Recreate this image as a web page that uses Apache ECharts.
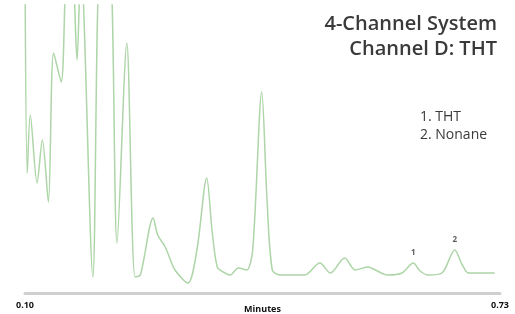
<!DOCTYPE html>
<html>
<head>
<meta charset="utf-8">
<script src="https://cdn.jsdelivr.net/npm/echarts@6/dist/echarts.min.js"></script>
<style>
  html, body { margin: 0; padding: 0; background: #fff; }
  #chart { width: 515px; height: 314px; }
</style>
</head>
<body>
<div id="chart"></div>
<script>
// retention time (minutes) and detector signal (arbitrary units, >288 = off scale)
const times = [0.100, 0.103, 0.107, 0.116, 0.123, 0.131, 0.138, 0.148, 0.156, 0.162,
  0.169, 0.174, 0.190, 0.200, 0.212, 0.222, 0.235, 0.246, 0.253, 0.270,
  0.276, 0.286, 0.299, 0.316, 0.328, 0.341, 0.348, 0.355, 0.363, 0.372,
  0.383, 0.394, 0.402, 0.414, 0.421, 0.428, 0.438, 0.471, 0.491, 0.505,
  0.524, 0.538, 0.554, 0.581, 0.600, 0.615, 0.624, 0.635, 0.653, 0.670,
  0.680, 0.688, 0.697, 0.723];
const signal = [330, 120, 178, 110, 153, 91, 240, 211, 330, 330,
  233, 330, 16, 330, 330, 50, 250, 16, 18, 75,
  58, 46, 23, 10, 43, 115, 63, 26, 21, 18,
  25, 23, 43, 201, 93, 23, 18, 18, 30, 20,
  35, 23, 26, 18, 20, 30, 22, 18, 20, 43,
  28, 20, 20, 20];

// numbered peaks
const peakNames = ['1', '2'];
const peakTimes = [0.615, 0.670];
const peakHeights = [30, 43];

const tickValues = [0.10, 0.73];
const tickLabels = ['0.10', '0.73'];
const titleLines = ['4-Channel System', 'Channel D: THT'];
const legendLines = ['1. THT', '2. Nonane'];

const chart = echarts.init(document.getElementById('chart'));

const titleGraphics = titleLines.map((line, i) => ({
  type: 'text',
  right: 18,
  top: 14 + i * 25,
  style: {
    text: line,
    font: '600 20px "Open Sans"',
    fill: '#3a3a3a'
  }
}));

chart.setOption({
  animation: false,
  graphic: titleGraphics.concat([
    {
      type: 'text',
      left: 420,
      top: 108,
      style: {
        text: legendLines.join('\n'),
        font: '14px "Open Sans"',
        lineHeight: 18,
        fill: '#3a3a3a'
      }
    }
  ]),
  grid: { left: 25, right: 15, top: 5, bottom: 21, outerBoundsMode: 'none' },
  xAxis: {
    type: 'value',
    min: 0.10,
    max: 0.73,
    name: 'Minutes',
    nameLocation: 'middle',
    nameGap: 12,
    nameMoveOverlap: false,
    nameTextStyle: { fontFamily: 'Open Sans', fontSize: 9, fontWeight: 'bold', color: '#111' },
    axisLine: { lineStyle: { color: '#cfcfcf', width: 3 } },
    axisTick: { show: false },
    splitLine: { show: false },
    axisLabel: {
      customValues: tickValues,
      formatter: v => tickLabels[tickValues.findIndex(t => Math.abs(t - v) < 1e-6)] || '',
      margin: 8,
      fontFamily: 'Open Sans',
      fontSize: 9,
      fontWeight: 'bold',
      color: '#111'
    }
  },
  yAxis: { type: 'value', min: 0, max: 288, show: false },
  series: [
    {
      type: 'line',
      data: times.map((t, i) => [t, signal[i]]),
      smooth: 0.3,
      showSymbol: false,
      clip: true,
      lineStyle: { color: '#add5a7', width: 1.5 }
    },
    {
      type: 'scatter',
      data: peakTimes.map((t, i) => [t, peakHeights[i]]),
      symbolSize: 0,
      label: {
        show: true,
        position: 'top',
        distance: 6,
        formatter: p => peakNames[p.dataIndex],
        fontFamily: 'Open Sans',
        fontSize: 8,
        fontWeight: 'bold',
        color: '#333'
      }
    }
  ]
});
</script>
</body>
</html>
